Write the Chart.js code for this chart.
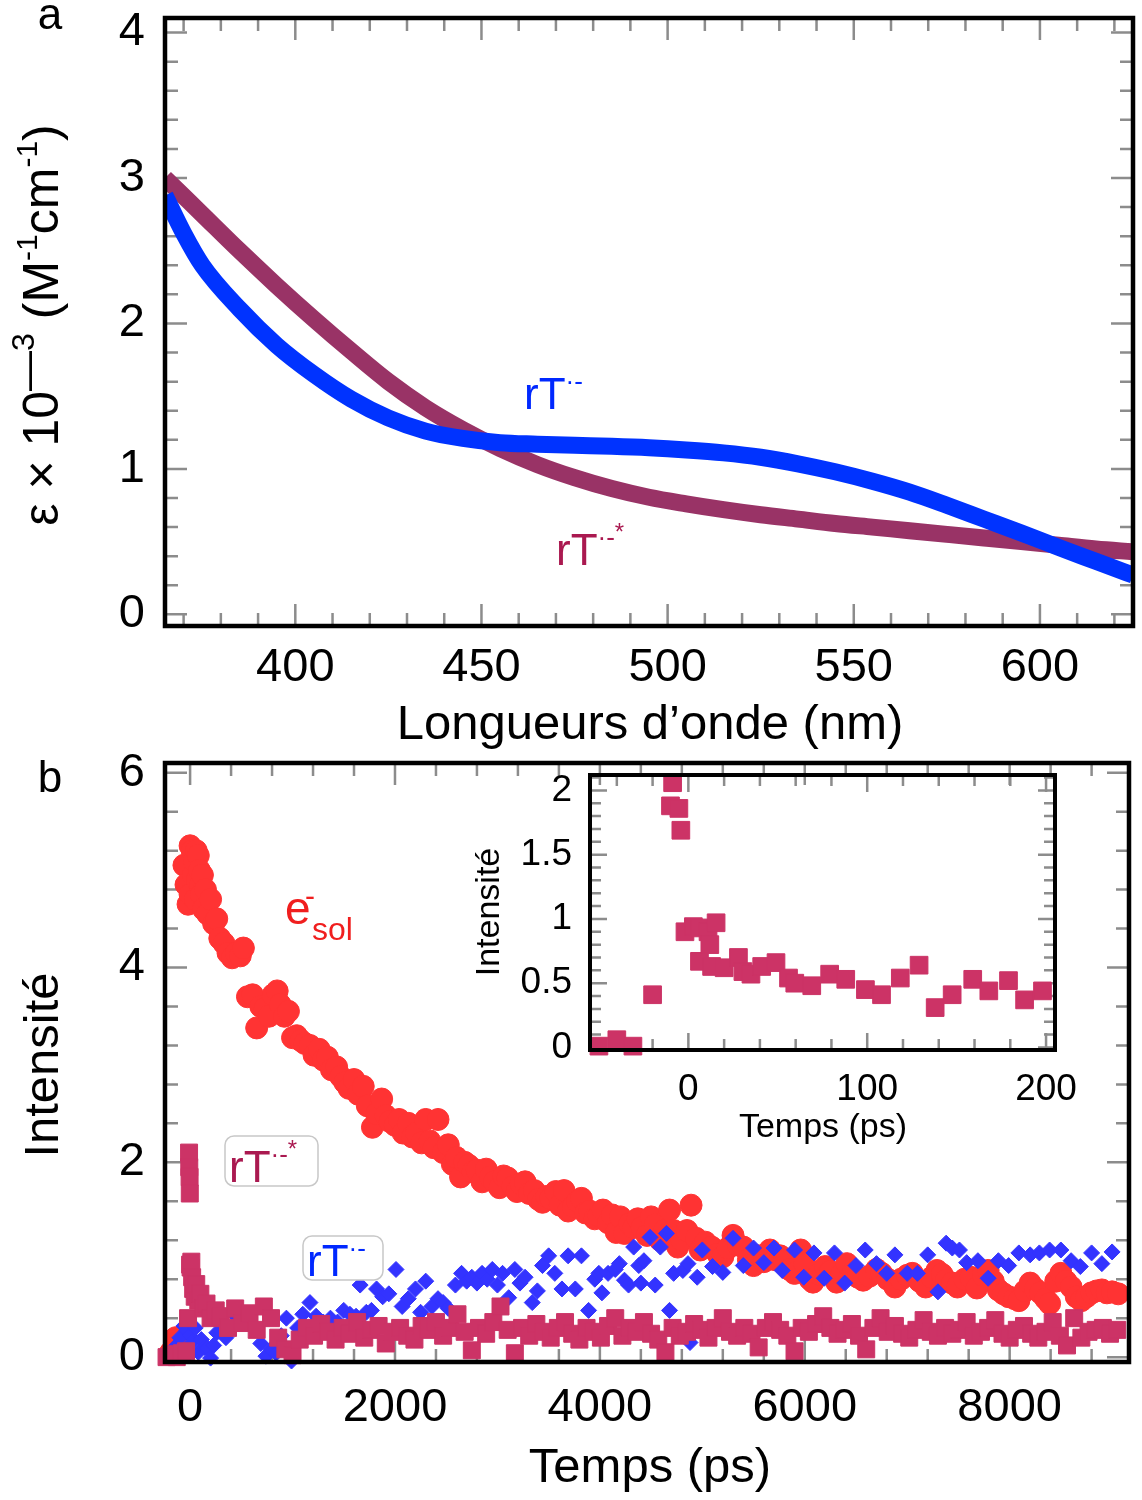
<!DOCTYPE html>
<html>
<head>
<meta charset="utf-8">
<script src="https://cdn.jsdelivr.net/npm/chart.js@4.4.1/dist/chart.umd.min.js"></script>
<style>
  body { margin: 0; background: #fff; width: 1142px; height: 1500px; position: relative; overflow: hidden; }
  canvas { position: absolute; }
</style>
</head>
<body>
<canvas id="chartA" width="1142" height="750" style="left:0;top:0"></canvas>
<canvas id="chartB" width="1142" height="750" style="left:0;top:750px"></canvas>
<canvas id="chartInset" width="640" height="400" style="left:440px;top:760px"></canvas>
<script>
// ---- panel a : absorption spectra ----
var wavelength = [365, 370, 375, 385, 395, 405, 415, 425, 435, 445, 455, 465, 475, 485, 495,
                  505, 515, 525, 535, 545, 555, 565, 575, 585, 595, 605, 615, 625];
var epsAnion   = [2.88, 2.62, 2.40, 2.10, 1.85, 1.65, 1.48, 1.35, 1.26, 1.21, 1.18, 1.17, 1.162, 1.155, 1.145,
                  1.13, 1.11, 1.08, 1.035, 0.98, 0.915, 0.84, 0.75, 0.655, 0.56, 0.46, 0.365, 0.27];
var epsExcited = [3.00, 2.875, 2.75, 2.50, 2.26, 2.03, 1.81, 1.60, 1.42, 1.27, 1.14, 1.03, 0.94, 0.865, 0.805,
                  0.76, 0.72, 0.685, 0.655, 0.625, 0.60, 0.575, 0.55, 0.525, 0.50, 0.475, 0.45, 0.43];
var aTicksX = [400, 450, 500, 550, 600];
var aTicksY = [0, 1, 2, 3, 4];

// ---- panel b : kinetics ----
var esolTime = [-190, -140, -60, -40, -20, 0, 0, 20, 30, 40, 50, 60, 70, 80, 90, 100, 110, 120, 130, 150, 170, 200, 230, 260, 290,
  330, 370, 410, 450, 490, 520, 560, 610, 650, 690, 730, 770, 810, 850, 880, 920, 960, 1000, 1040, 1080, 1120, 1170, 1210,
  1260, 1300, 1340, 1380, 1430, 1470, 1510, 1550, 1600, 1640, 1690, 1730, 1780, 1820, 1870, 1910, 1950, 2000, 2040, 2080,
  2130, 2170, 2210, 2260, 2300, 2340, 2380, 2420, 2470, 2520, 2560, 2600, 2640, 2680, 2720, 2760, 2800, 2850, 2890, 2930,
  2970, 3020, 3060, 3100, 3150, 3190, 3230, 3270, 3310, 3360, 3400, 3440, 3480, 3520, 3570, 3610, 3650, 3690, 3740, 3780,
  3820, 3860, 3900, 3950, 3990, 4030, 4080, 4120, 4160, 4200, 4240, 4290, 4330, 4370, 4410, 4460, 4500, 4540, 4590, 4630,
  4680, 4720, 4760, 4800, 4850, 4890, 4940, 4980, 5030, 5090, 5150, 5200, 5250, 5300, 5350, 5400, 5450, 5500, 5550, 5600,
  5660, 5710, 5760, 5800, 5850, 5900, 5960, 6000, 6050, 6080, 6140, 6200, 6250, 6310, 6360, 6410, 6470, 6520, 6570, 6630,
  6700, 6750, 6810, 6880, 6940, 7000, 7050, 7120, 7180, 7240, 7290, 7340, 7380, 7440, 7490, 7560, 7620, 7680, 7740, 7790,
  7840, 7890, 7940, 7990, 8050, 8090, 8150, 8200, 8250, 8300, 8350, 8390, 8450, 8500, 8550, 8600, 8650, 8700, 8750, 8800,
  8850, 8900, 8950, 9000, 9060];
var esolInt = [0.05, 0.2, 5.05, 4.85, 4.65, 5.25, 4.75, 5.2, 4.95, 5.1, 4.7, 5.2, 4.9, 5.15, 5.0, 4.85, 4.75, 4.95, 4.6, 4.8, 4.55,
  4.7, 4.45, 4.5, 4.3, 4.25, 4.15, 4.1, 4.15, 4.12, 4.2, 3.7, 3.72, 3.38, 3.6, 3.58, 3.5, 3.72, 3.76, 3.62, 3.5, 3.55, 3.28,
  3.3, 3.25, 3.22, 3.2, 3.1, 3.16, 3.05, 3.08, 2.95, 2.98, 2.88, 2.82, 2.76, 2.85, 2.7, 2.78, 2.58, 2.36, 2.5, 2.65, 2.48,
  2.42, 2.38, 2.44, 2.3, 2.4, 2.26, 2.3, 2.2, 2.44, 2.22, 2.15, 2.44, 2.1, 2.18, 1.98, 2.05, 1.85, 2.0, 1.97, 1.9, 1.92, 1.8,
  1.93, 1.85, 1.8, 1.74, 1.86, 1.84, 1.75, 1.7, 1.78, 1.8, 1.68, 1.71, 1.62, 1.59, 1.65, 1.63, 1.7, 1.56, 1.71, 1.5, 1.55,
  1.6, 1.63, 1.48, 1.5, 1.42, 1.45, 1.51, 1.38, 1.46, 1.28, 1.44, 1.27, 1.37, 1.33, 1.42, 1.33, 1.25, 1.44, 1.36, 1.2, 1.3,
  1.51, 1.3, 1.13, 1.2, 1.3, 1.56, 1.22, 1.1, 1.18, 1.13, 1.06, 1.03, 1.12, 1.25, 1.15, 1.13, 1.0, 0.94, 1.04, 0.98, 1.1,
  1.0, 1.04, 0.99, 0.9, 0.86, 1.1, 0.96, 0.8, 0.77, 0.85, 0.93, 0.88, 0.77, 0.85, 0.96, 0.87, 0.82, 0.79, 0.83, 0.9, 0.86,
  0.8, 0.72, 0.8, 0.84, 0.86, 0.78, 0.72, 0.82, 0.89, 0.85, 0.79, 0.76, 0.72, 0.8, 0.82, 0.71, 0.84, 0.89, 0.78, 0.69, 0.65,
  0.62, 0.6, 0.58, 0.68, 0.76, 0.7, 0.66, 0.6, 0.55, 0.78, 0.86, 0.78, 0.72, 0.62, 0.58, 0.62, 0.66, 0.68, 0.69, 0.66, 0.67,
  0.65];

var anionTime = [-200, -150, -100, -60, -30, 0, 20, 50, 80, 110, 140, 170, 200, 230, 260, 300, 350, 400, 450, 490, 540, 590,
  640, 690, 740, 790, 840, 890, 940, 990, 1050, 1100, 1170, 1230, 1300, 1370, 1440, 1500, 1560, 1620, 1660, 1720, 1770,
  1820, 1880, 1940, 2010, 2070, 2130, 2200, 2250, 2300, 2360, 2420, 2470, 2520, 2590, 2650, 2700, 2750, 2800, 2850, 2900,
  2950, 3000, 3050, 3110, 3170, 3220, 3270, 3340, 3390, 3440, 3500, 3560, 3630, 3690, 3760, 3820, 3890, 3950, 3990, 4020,
  4080, 4150, 4190, 4240, 4280, 4330, 4380, 4400, 4430, 4490, 4540, 4590, 4650, 4680, 4720, 4810, 4860, 4880, 4950, 5000,
  5100, 5200, 5300, 5400, 5500, 5600, 5700, 5780, 5900, 5990, 6090, 6190, 6290, 6390, 6500, 6590, 6700, 6800, 6880, 7000,
  7100, 7200, 7300, 7380, 7440, 7510, 7580, 7690, 7790, 7890, 7990, 8090, 8200, 8290, 8390, 8500, 8600, 8690, 8800, 8900,
  9000];
var anionInt = [0.02, 0.1, 0.2, 0.32, 0.27, 0.22, 0.15, 0.3, 0.05, 0.18, 0.1, 0.09, -0.01, 0.12, 0.25, 0.4, 0.2, 0.3, 0.42,
  0.48, 0.38, 0.35, 0.28, 0.14, 0.01, 0.08, 0.04, 0.22, 0.4, -0.04, 0.3, 0.44, 0.56, 0.42, 0.36, 0.4, 0.36, 0.48, 0.44,
  0.42, 0.74, 0.46, 0.48, 0.7, 0.62, 0.65, 0.9, 0.52, 0.6, 0.7, 0.46, 0.78, 0.52, 0.6, 0.56, 0.5, 0.74, 0.86, 0.78, 0.82,
  0.76, 0.86, 0.8, 0.9, 0.74, 0.86, 0.61, 0.9, 0.76, 0.82, 0.56, 0.68, 0.94, 1.04, 0.86, 0.7, 1.04, 0.7, 1.04, 0.48, 0.8,
  0.86, 0.66, 0.86, 0.9, 0.96, 0.79, 0.74, 1.13, 0.94, 0.76, 0.99, 1.23, 0.74, 1.13, 1.27, 0.48, 0.86, 0.89, 0.96, 0.15,
  0.82, 1.1, 0.93, 0.87, 1.22, 0.94, 1.12, 0.97, 1.12, 0.89, 1.1, 0.82, 1.07, 0.81, 1.07, 0.76, 0.94, 1.1, 0.96, 0.86,
  1.05, 0.86, 0.86, 1.05, 0.67, 1.17, 1.12, 1.1, 0.97, 0.99, 0.81, 0.99, 0.94, 1.07, 1.05, 1.07, 1.1, 1.1, 0.99, 0.93,
  1.07, 0.96, 1.08];

var excitedTime = [-230, -180, -130, -80, -40, -20, -10, -8, -5, -3, 0, 5, 12, 20, 30, 45, 60, 80, 100, 130, 160, 200, 250,
  300, 370, 440, 510, 580, 650, 720, 790, 860, 930, 1000, 1070, 1140, 1210, 1280, 1350, 1420, 1490, 1560, 1630, 1700,
  1770, 1840, 1910, 1980, 2050, 2120, 2190, 2260, 2330, 2400, 2470, 2540, 2610, 2680, 2750, 2820, 2890, 2960, 3030, 3100,
  3170, 3240, 3310, 3380, 3450, 3520, 3590, 3660, 3730, 3800, 3870, 3940, 4010, 4080, 4150, 4220, 4290, 4360, 4430, 4500,
  4570, 4640, 4710, 4780, 4850, 4920, 4990, 5060, 5130, 5200, 5270, 5340, 5410, 5480, 5550, 5620, 5690, 5760, 5830, 5900,
  5970, 6040, 6110, 6180, 6250, 6320, 6390, 6460, 6530, 6600, 6670, 6740, 6810, 6880, 6950, 7020, 7090, 7160, 7230, 7300,
  7370, 7440, 7510, 7580, 7650, 7720, 7790, 7860, 7930, 8000, 8070, 8140, 8210, 8280, 8350, 8420, 8490, 8560, 8630, 8700,
  8770, 8840, 8910, 8980, 9050];
var excitedInt = [0.0, 0.03, 0.0, 0.04, 0.06, 0.4, 2.1, 1.95, 1.85, 1.68, 0.95, 0.92, 0.98, 0.82, 0.7, 0.62, 0.75, 0.58,
  0.65, 0.5, 0.55, 0.4, 0.48, 0.42, 0.3, 0.5, 0.35, 0.45, 0.28, 0.52, 0.4, 0.2, 0.08, 0.02, 0.18, 0.3, 0.22, 0.34, 0.26,
  0.18, 0.3, 0.24, 0.36, 0.2, 0.28, 0.32, 0.14, 0.26, 0.3, 0.22, 0.18, 0.32, 0.28, 0.36, 0.22, 0.3, 0.44, 0.26, 0.07, 0.3,
  0.24, 0.36, 0.52, 0.28, 0.04, 0.3, 0.22, 0.34, 0.26, 0.2, 0.3, 0.36, 0.24, 0.18, 0.3, 0.26, 0.2, 0.32, 0.4, 0.22, 0.3,
  0.26, 0.36, 0.24, 0.18, 0.05, 0.3, 0.22, 0.26, 0.34, 0.28, 0.2, 0.3, 0.4, 0.26, 0.22, 0.3, 0.24, 0.1, 0.3, 0.36, 0.28,
  0.22, 0.06, 0.3, 0.26, 0.34, 0.42, 0.3, 0.24, 0.28, 0.34, 0.22, 0.08, 0.3, 0.4, 0.26, 0.32, 0.24, 0.2, 0.28, 0.38, 0.26,
  0.22, 0.3, 0.24, 0.28, 0.36, 0.22, 0.26, 0.3, 0.38, 0.24, 0.2, 0.28, 0.32, 0.24, 0.2, 0.26, 0.36, 0.22, 0.12, 0.4, 0.2,
  0.26, 0.28, 0.3, 0.24, 0.28];
var bTicksX = [0, 2000, 4000, 6000, 8000];
var bTicksY = [0, 2, 4, 6];

// ---- inset : early times ----
var insetTime = [-50, -40, -31, -20, -8.8, -10, -5.3, -4.2, -1.9, 2.8, 6.2, 11, 15.5, 6.2, 12, 13, 20, 28, 30.5, 35, 41, 49,
  56, 59.5, 69, 79, 88, 99, 108, 118.5, 129, 138, 147.5, 159, 168, 179, 188, 198];
var insetInt = [0.01, 0.06, 0.01, 0.41, 2.06, 1.88, 1.86, 1.69, 0.90, 0.94, 0.93, 0.90, 0.97, 0.67, 0.80, 0.63, 0.62, 0.70,
  0.59, 0.57, 0.63, 0.66, 0.54, 0.50, 0.48, 0.57, 0.53, 0.45, 0.41, 0.54, 0.64, 0.31, 0.41, 0.53, 0.44, 0.52, 0.37, 0.44];
var insetTicksX = [0, 100, 200];
var insetTicksY = [0, 0.5, 1, 1.5, 2];

var FONT = '"Liberation Sans", Arial, Helvetica, sans-serif';
var BLUE_LINE = 'rgb(0,51,255)';
var BROWN_LINE = 'rgb(153,51,102)';
var RED_PT = 'rgb(255,51,51)';
var BLUE_PT = 'rgb(51,51,255)';
var CRIMSON_PT = 'rgb(204,51,102)';

function fnt(size) { return size + 'px ' + FONT; }
function pts(xs, ys) { return xs.map(function (x, i) { return { x: x, y: ys[i] }; }); }

// draws [text, size, rise] pieces on one baseline
function rich(ctx, parts, x, y, align) {
  var w = 0;
  parts.forEach(function (p) { ctx.font = fnt(p[1]); w += ctx.measureText(p[0]).width; });
  var cx = align === 'center' ? x - w / 2 : x;
  ctx.textAlign = 'left';
  ctx.textBaseline = 'alphabetic';
  parts.forEach(function (p) {
    ctx.font = fnt(p[1]);
    ctx.fillText(p[0], cx, y - (p[2] || 0));
    cx += ctx.measureText(p[0]).width;
  });
}
function vertical(ctx, parts, cx, cy, size) {
  ctx.save();
  ctx.translate(cx, cy);
  ctx.rotate(-Math.PI / 2);
  rich(ctx, parts, 0, 0.36 * size, 'center');
  ctx.restore();
}
function roundBox(ctx, x, y, w, h, r) {
  ctx.save();
  ctx.beginPath();
  ctx.roundRect(x, y, w, h, r);
  ctx.fillStyle = '#fff';
  ctx.fill();
  ctx.strokeStyle = '#c8c8c8';
  ctx.lineWidth = 1.5;
  ctx.stroke();
  ctx.restore();
}

// inward ticks on all four sides + black frame
var frameTicks = {
  id: 'frameTicks',
  beforeDatasetsDraw: function (chart, args, o) {
    var ctx = chart.ctx, a = chart.chartArea, sx = chart.scales.x, sy = chart.scales.y;
    ctx.save();
    ctx.strokeStyle = '#8c8c8c';
    ctx.lineWidth = o.tickWidth;
    ctx.beginPath();
    var k = Math.round(o.xMajor / o.xMinor);
    for (var n = Math.ceil(sx.min / o.xMinor - 1e-9); n <= Math.floor(sx.max / o.xMinor + 1e-9); n++) {
      var px = sx.getPixelForValue(n * o.xMinor);
      var len = n % k === 0 ? o.major : o.minor;
      ctx.moveTo(px, a.bottom); ctx.lineTo(px, a.bottom - len);
      ctx.moveTo(px, a.top); ctx.lineTo(px, a.top + len);
    }
    k = Math.round(o.yMajor / o.yMinor);
    for (n = Math.ceil(sy.min / o.yMinor - 1e-9); n <= Math.floor(sy.max / o.yMinor + 1e-9); n++) {
      var py = sy.getPixelForValue(n * o.yMinor);
      len = n % k === 0 ? o.major : o.minor;
      ctx.moveTo(a.left, py); ctx.lineTo(a.left + len, py);
      ctx.moveTo(a.right, py); ctx.lineTo(a.right - len, py);
    }
    ctx.stroke();
    ctx.restore();
  },
  afterDatasetsDraw: function (chart, args, o) {
    var ctx = chart.ctx, a = chart.chartArea;
    ctx.save();
    ctx.strokeStyle = '#000';
    ctx.lineWidth = o.frame;
    ctx.strokeRect(a.left, a.top, a.right - a.left, a.bottom - a.top);
    ctx.restore();
  }
};
Chart.register(frameTicks);

function axes(xr, yr, xTicks, yTicks, fontSize, leftW, bottomH, xPad, yPad) {
  function fit(w, h) {
    return function (s) {
      if (w) s.width = w;
      if (h) s.height = h;
      s.paddingTop = 0; s.paddingBottom = 0; s.paddingLeft = 0; s.paddingRight = 0;
    };
  }
  function setTicks(list) {
    return function (s) { s.ticks = list.map(function (v) { return { value: v }; }); };
  }
  function label(v) { return String(v); }
  return {
    x: {
      type: 'linear', min: xr[0], max: xr[1],
      grid: { display: false }, border: { display: false },
      ticks: { autoSkip: false, maxRotation: 0, padding: xPad, callback: label,
               color: '#000', font: { family: FONT, size: fontSize } },
      afterBuildTicks: setTicks(xTicks),
      afterFit: fit(0, bottomH)
    },
    y: {
      type: 'linear', min: yr[0], max: yr[1],
      grid: { display: false }, border: { display: false },
      ticks: { autoSkip: false, padding: yPad, callback: label,
               color: '#000', font: { family: FONT, size: fontSize } },
      afterBuildTicks: setTicks(yTicks),
      afterFit: fit(leftW, 0)
    }
  };
}

var common = {
  responsive: false, animation: false, devicePixelRatio: 1, events: [],
  plugins: { legend: { display: false }, tooltip: { enabled: false } }
};

// ---------- panel a ----------
new Chart(document.getElementById('chartA'), {
  type: 'scatter',
  data: {
    datasets: [
      { data: pts(wavelength, epsAnion), showLine: true, borderColor: BLUE_LINE, borderWidth: 17,
        pointRadius: 0, cubicInterpolationMode: 'monotone', clip: 0 },
      { data: pts(wavelength, epsExcited), showLine: true, borderColor: BROWN_LINE, borderWidth: 17,
        pointRadius: 0, cubicInterpolationMode: 'monotone', clip: 0 }
    ]
  },
  options: Object.assign({}, common, {
    layout: { padding: { top: 18, right: 9, left: 0, bottom: 0 } },
    scales: axes([365, 625], [-0.08, 4.1], aTicksX, aTicksY, 47, 165, 124, 6, 12),
    plugins: Object.assign({}, common.plugins, {
      frameTicks: { xMinor: 10, xMajor: 50, yMinor: 0.2, yMajor: 1, major: 22, minor: 13, tickWidth: 2.5, frame: 4.5 }
    })
  }),
  plugins: [{
    id: 'textA',
    afterDraw: function (chart) {
      var ctx = chart.ctx;
      ctx.save();
      ctx.fillStyle = '#000';
      rich(ctx, [['a', 44]], 50, 29, 'center');
      rich(ctx, [['Longueurs d\u2019onde (nm)', 49]], 650, 739, 'center');
      vertical(ctx, [['\u03b5 \u00d7 10', 50], ['\u2014', 40, 17], ['3', 32, 24], [' (M', 50], ['-1', 30, 21],
                     ['cm', 50], ['-1', 30, 21], [')', 50]], 40, 325, 50);
      ctx.fillStyle = 'rgb(0,40,255)';
      rich(ctx, [['rT', 44], ['\u00b7-', 26, 19]], 524, 409);
      ctx.fillStyle = 'rgb(170,25,80)';
      rich(ctx, [['rT', 44], ['\u00b7-', 26, 19], ['*', 24, 25]], 556, 565);
      ctx.restore();
    }
  }]
});

// ---------- panel b ----------
new Chart(document.getElementById('chartB'), {
  type: 'scatter',
  data: {
    datasets: [
      { data: pts(excitedTime, excitedInt), pointStyle: 'rect', pointRadius: 12, backgroundColor: CRIMSON_PT,
        borderColor: CRIMSON_PT, borderWidth: 1, clip: false },
      { data: pts(anionTime, anionInt), pointStyle: 'rectRot', pointRadius: 8, backgroundColor: BLUE_PT,
        borderColor: BLUE_PT, borderWidth: 1, clip: false },
      { data: pts(esolTime, esolInt), pointStyle: 'circle', pointRadius: 11, backgroundColor: RED_PT,
        borderColor: RED_PT, borderWidth: 1, clip: false }
    ]
  },
  options: Object.assign({}, common, {
    layout: { padding: { top: 12, right: 9, left: 0, bottom: 0 } },
    scales: axes([-245, 9165], [-0.05, 6.1], bTicksX, bTicksY, 47, 165, 138, 10, 12),
    plugins: Object.assign({}, common.plugins, {
      frameTicks: { xMinor: 400, xMajor: 2000, yMinor: 0.4, yMajor: 2, major: 22, minor: 13, tickWidth: 2.5, frame: 4.5 }
    })
  }),
  plugins: [{
    id: 'textB',
    afterDraw: function (chart) {
      var ctx = chart.ctx;
      ctx.save();
      ctx.fillStyle = '#000';
      rich(ctx, [['b', 44]], 50, 42, 'center');
      rich(ctx, [['Temps (ps)', 49]], 650, 732, 'center');
      vertical(ctx, [['Intensit\u00e9', 49]], 40, 315, 49);
      ctx.fillStyle = 'rgb(240,30,30)';
      rich(ctx, [['e', 46]], 285, 174);
      rich(ctx, [['-', 30]], 305, 156);
      rich(ctx, [['sol', 32]], 312, 190);
      roundBox(ctx, 225, 386, 93, 50, 9);
      ctx.fillStyle = 'rgb(170,25,80)';
      rich(ctx, [['rT', 44], ['\u00b7-', 26, 19], ['*', 24, 25]], 229, 432);
      roundBox(ctx, 303, 486, 80, 44, 9);
      ctx.fillStyle = 'rgb(0,40,255)';
      rich(ctx, [['rT', 44], ['\u00b7-', 26, 19]], 307, 526);
      ctx.restore();
    }
  }]
});

// ---------- inset ----------
new Chart(document.getElementById('chartInset'), {
  type: 'scatter',
  data: {
    datasets: [
      { data: pts(insetTime, insetInt), pointStyle: 'rect', pointRadius: 12.5, backgroundColor: CRIMSON_PT,
        borderColor: CRIMSON_PT, borderWidth: 1, clip: false }
    ]
  },
  options: Object.assign({}, common, {
    layout: { padding: { top: 15, right: 25, left: 0, bottom: 0 } },
    scales: axes([-55, 205], [-0.02, 2.12], insetTicksX, insetTicksY, 37, 150, 110, 10, 10),
    plugins: Object.assign({}, common.plugins, {
      frameTicks: { xMinor: 20, xMajor: 100, yMinor: 0.1, yMajor: 0.5, major: 17, minor: 11, tickWidth: 2.5, frame: 4 }
    })
  }),
  plugins: [{
    id: 'textInset',
    afterDraw: function (chart) {
      var ctx = chart.ctx;
      ctx.save();
      ctx.fillStyle = '#000';
      rich(ctx, [['Temps (ps)', 34]], 383, 377, 'center');
      vertical(ctx, [['Intensit\u00e9', 34]], 47, 152, 34);
      ctx.restore();
    }
  }]
});
</script>
</body>
</html>
